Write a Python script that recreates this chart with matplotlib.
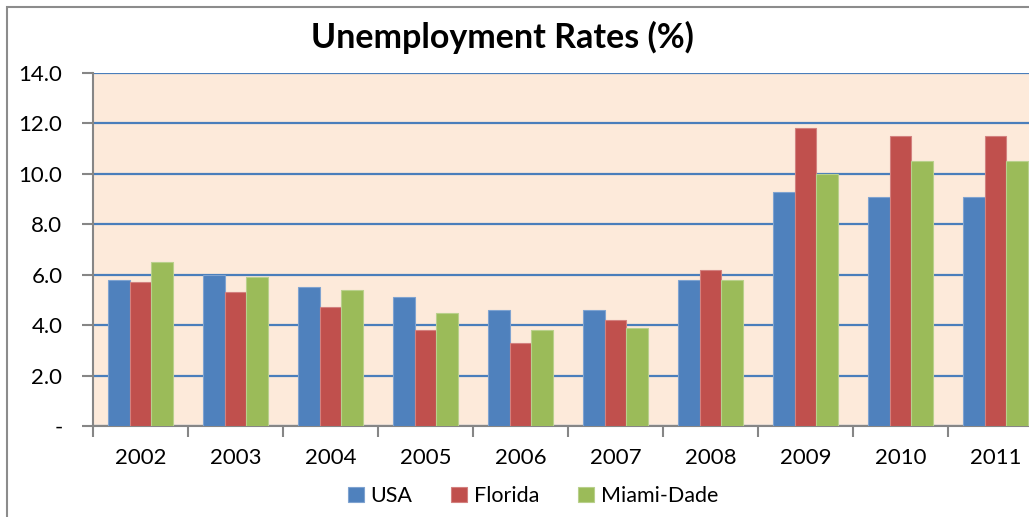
import matplotlib.pyplot as plt
from matplotlib.patches import Rectangle
import numpy as np

plt.rcParams['font.family'] = ['Lato', 'DejaVu Sans']

years = ['2002', '2003', '2004', '2005', '2006', '2007', '2008', '2009', '2010', '2011']
usa = [5.8, 6.0, 5.5, 5.1, 4.6, 4.6, 5.8, 9.3, 9.1, 9.1]
florida = [5.7, 5.3, 4.7, 3.8, 3.3, 4.2, 6.2, 11.8, 11.5, 11.5]
miami = [6.5, 5.9, 5.4, 4.5, 3.8, 3.9, 5.8, 10.0, 10.5, 10.5]
series = ['USA', 'Florida', 'Miami-Dade']
colors = ['#4F81BD', '#C0504D', '#9BBB59']
edges = ['#7FA3D0', '#D3817F', '#B9D08C']

fig = plt.figure(figsize=(10.29, 5.17), dpi=100)
# outer chart frame (cropped on the right/bottom in the reference)
fig.patches.append(Rectangle((7 / 1029, -0.1), 1.2, (517 - 7) / 517 + 0.1,
                             transform=fig.transFigure, fill=False,
                             edgecolor='#8C8C8C', linewidth=1.5))

ax = fig.add_axes([93 / 1029, (517 - 426) / 517, 950 / 1029, (426 - 73) / 517])
ax.set_facecolor('#FDEADA')

x = np.arange(len(years))
w = 0.228
for i, (vals, c, ec) in enumerate(zip([usa, florida, miami], colors, edges)):
    ax.bar(x + (i - 1) * w, vals, w, color=c, edgecolor=ec, linewidth=0.8,
           label=series[i], zorder=3)

ax.set_xlim(-0.5, len(years) - 0.5)
ax.set_ylim(0, 14)
ax.set_yticks(np.arange(0, 15, 2))
ax.set_yticklabels(['-'] + ['%.1f' % v for v in np.arange(2, 15, 2)])
ax.yaxis.grid(True, color='#4A7EBB', linewidth=1.6, zorder=1)
ax.set_axisbelow(True)

ax.set_xticks(x)
ax.set_xticklabels(years)
ax.set_xticks(np.arange(-0.5, len(years), 1), minor=True)
ax.tick_params(axis='x', which='major', length=0, pad=16, labelsize=16)
ax.tick_params(axis='x', which='minor', length=8, width=1.5, color='#868686', direction='out')
ax.tick_params(axis='y', length=8, width=1.5, color='#868686', direction='out', pad=14, labelsize=16)

for s in ['top', 'right']:
    ax.spines[s].set_visible(False)
for s in ['left', 'bottom']:
    ax.spines[s].set_color('#868686')
    ax.spines[s].set_linewidth(1.5)

fig.text(502 / 1029, 1 - 37 / 517, 'Unemployment Rates (%)', ha='center', va='center',
         fontsize=24.5, fontweight='bold')

fig.legend(loc='center', bbox_to_anchor=(533 / 1029, 1 - 496 / 517), ncol=3,
           frameon=False, fontsize=15.5, handlelength=0.75, handleheight=0.75,
           handletextpad=0.3, columnspacing=1.8)

fig.savefig('out.png', dpi=100)
